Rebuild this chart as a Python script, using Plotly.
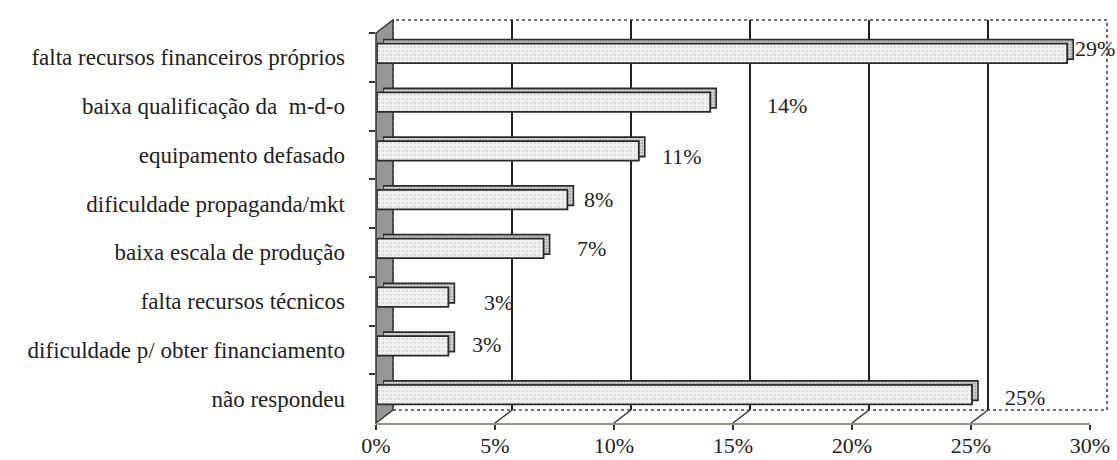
import plotly.graph_objects as go

# Survey answers: main difficulties reported by the firms
categories = [
    "falta recursos financeiros próprios",
    "baixa qualificação da  m-d-o",
    "equipamento defasado",
    "dificuldade propaganda/mkt",
    "baixa escala de produção",
    "falta recursos técnicos",
    "dificuldade p/ obter financiamento",
    "não respondeu",
]
shares = [29, 14, 11, 8, 7, 3, 3, 25]
x_ticks = [0, 5, 10, 15, 20, 25, 30]
x_tick_labels = ["0%", "5%", "10%", "15%", "20%", "25%", "30%"]

# pixel nudges for the value labels (x, y)
label_nudge = [(6, 5), (55, -3), (21, -6), (15, 0), (31, 0), (34, -5), (22, 1), (31, -3)]

W, H = 1117, 460
ML, MR, MT, MB = 376, 10, 20, 37
PW, PH = W - ML - MR, H - MT - MB
DX, DY = 17, 13          # depth of the 3-D box
FX, FY = 1, 4            # front face of the bars
SX, SY = 7, 8            # rear face of the bars
BAR_W = 0.40

FONT = "Liberation Serif"
INK = "#1e1e1e"

fx = (PW - DX) / PW
fy = (PH - DY) / PH


def bar_axes(ox, oy, name):
    xa = dict(domain=[ox / PW, fx + ox / PW], range=[0, 30], visible=False,
              anchor="y" + name, fixedrange=True)
    ya = dict(domain=[oy / PH, fy + oy / PH], type="category", categoryorder="array",
              categoryarray=categories, range=[len(categories) - 0.5, -0.5], visible=False,
              anchor="x" + name, fixedrange=True)
    return xa, ya


fig = go.Figure()

# empty trace so the back-wall subplot gets created
fig.add_trace(go.Scatter(x=[None], y=[None], xaxis="x2", yaxis="y2", mode="markers",
                         hoverinfo="skip", showlegend=False))

# rear face of the bars: shows as the top strip and the end cap
fig.add_trace(go.Bar(
    y=categories, x=shares, orientation="h", xaxis="x3", yaxis="y3", width=BAR_W,
    marker=dict(color="#d6d6d6", line=dict(color="#2a2a2a", width=1.6),
                pattern=dict(shape=".", fgcolor="#5f5f5f", size=3, solidity=0.35)),
    hoverinfo="skip", showlegend=False,
))

# front face of the bars
fig.add_trace(go.Bar(
    y=categories, x=shares, orientation="h", xaxis="x4", yaxis="y4", width=BAR_W,
    marker=dict(color="#f1f1f1", line=dict(color="#2a2a2a", width=1.8),
                pattern=dict(shape=".", fgcolor="#c4c4c4", size=4, solidity=0.25)),
    hoverinfo="skip", showlegend=False,
))

x3, y3 = bar_axes(SX, SY, "3")
x4, y4 = bar_axes(FX, FY, "4")

fig.update_layout(
    width=W, height=H,
    margin=dict(l=ML, r=MR, t=MT, b=MB, autoexpand=False),
    paper_bgcolor="white", plot_bgcolor="rgba(0,0,0,0)",
    font=dict(family=FONT, size=22, color=INK),
    # front axes: ticks and labels
    xaxis=dict(domain=[0, fx], range=[0, 30], tickvals=x_ticks, ticktext=x_tick_labels,
               showgrid=False, zeroline=False, showline=True, linecolor="#8f9a86", linewidth=2,
               ticks="outside", ticklen=5, tickcolor="#333", tickwidth=1.5, anchor="y",
               ticklabelstandoff=-3,
               tickfont=dict(family=FONT, size=22, color=INK), fixedrange=True),
    yaxis=dict(domain=[0, fy], type="category", categoryorder="array", categoryarray=categories,
               range=[len(categories) - 0.5, -0.5], tickson="boundaries", anchor="x",
               ticks="outside", ticklen=6, tickcolor="#333", tickwidth=1.5,
               showgrid=False, zeroline=False, showline=False, ticklabelstandoff=30,
               tickfont=dict(family=FONT, size=23, color=INK), fixedrange=True),
    # back wall with its grid
    xaxis2=dict(domain=[DX / PW, 1], range=[0, 30], tickvals=[5, 10, 15, 20, 25],
                showgrid=True, gridcolor="#222", gridwidth=1.6, showticklabels=False, ticks="",
                zeroline=False, showline=False, anchor="y2", fixedrange=True),
    yaxis2=dict(domain=[DY / PH, 1], range=[0, 1], showgrid=False, showticklabels=False, ticks="",
                zeroline=False, showline=False, anchor="x2", fixedrange=True),
    xaxis3=x3, yaxis3=y3,
    xaxis4=x4, yaxis4=y4,
)

shapes = []
# dotted outline of the back wall
shapes.append(dict(type="rect", xref="x2 domain", yref="y2 domain", x0=0, x1=1, y0=0, y1=1,
                   line=dict(color="#444", width=1.6, dash="dot"), layer="below"))
# left side wall
shapes.append(dict(type="path", xref="paper", yref="paper",
                   path=f"M 0,0 L 0,{fy} L {DX / PW},1 L {DX / PW},{DY / PH} Z",
                   fillcolor="#969696", line=dict(color="#333", width=1.5), layer="below"))
# floor edges joining front ticks to the back wall
for v in x_ticks[1:]:
    shapes.append(dict(type="line", xref="x", yref="paper", xsizemode="pixel", ysizemode="pixel",
                       xanchor=v, yanchor=0, x0=0, x1=DX, y0=0, y1=DY,
                       line=dict(color="#333", width=1.4)))
fig.update_layout(shapes=shapes)

annotations = []
for cat, v, (nx, ny) in zip(categories, shares, label_nudge):
    annotations.append(dict(x=v, y=cat, xref="x4", yref="y4", text=f"{v}%", showarrow=False,
                            xanchor="left", yanchor="middle", xshift=nx, yshift=ny,
                            font=dict(family=FONT, size=22, color=INK)))
fig.update_layout(annotations=annotations)

fig.write_html("out.html", config={"displayModeBar": False})
